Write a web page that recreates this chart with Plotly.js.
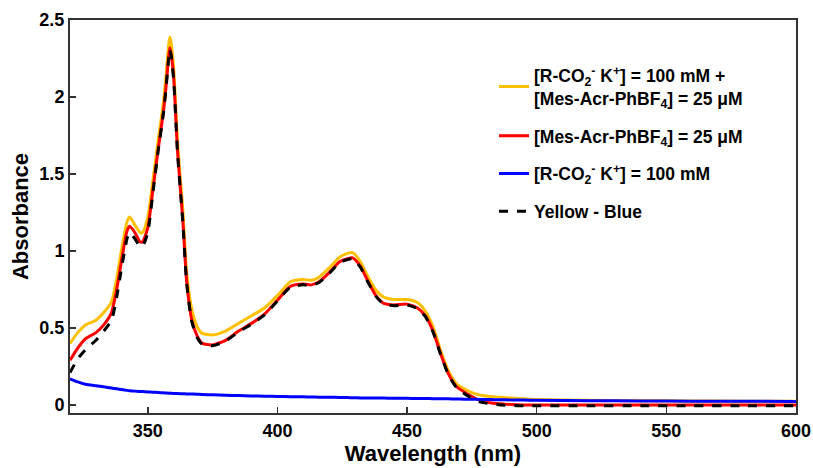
<!DOCTYPE html>
<html>
<head>
<meta charset="utf-8">
<script src="https://cdn.plot.ly/plotly-3.0.1.min.js"></script>
<style>html,body{margin:0;padding:0;background:#fff}#chart{width:813px;height:468px}</style>
</head>
<body>
<div id="chart"></div>
<script>
// Wavelength (nm)
const wavelength = [320,323,326,330,333,336,338,340,342,343,
  345,347,348,350,352,354,356,357,358,358.5,
  359,360,361.5,363.5,365,367,369,371,375,380,
  385,390,395,400,405,410,413,416,420,424,
  427,429,432,435,438,441,445,450,454,457,
  460,463,466,469,472,475,478,482,486,490,
  495,500,520,540,560,580,600];

// [R-CO2- K+] = 100 mM + [Mes-Acr-PhBF4] = 25 uM  (yellow)
const yellowMix = [0.40,0.47,0.52,0.55,0.60,0.67,0.82,1.02,1.19,1.22,
  1.17,1.12,1.12,1.22,1.46,1.72,1.96,2.13,2.33,2.39,
  2.35,2.18,1.70,1.27,0.86,0.62,0.51,0.465,0.455,0.48,
  0.53,0.58,0.63,0.71,0.80,0.815,0.81,0.83,0.89,0.96,
  0.985,0.99,0.93,0.83,0.745,0.70,0.685,0.685,0.665,0.61,
  0.51,0.35,0.22,0.14,0.105,0.08,0.065,0.055,0.05,0.045,
  0.04,0.035,0.03,0.028,0.026,0.025,0.024];

// [Mes-Acr-PhBF4] = 25 uM  (red)
const redAcr = [0.29,0.37,0.43,0.47,0.52,0.60,0.75,0.95,1.13,1.16,
  1.12,1.06,1.06,1.15,1.40,1.66,1.90,2.06,2.25,2.32,
  2.28,2.12,1.64,1.20,0.80,0.55,0.45,0.40,0.39,0.42,
  0.48,0.53,0.59,0.68,0.77,0.785,0.78,0.80,0.86,0.93,
  0.95,0.955,0.90,0.80,0.71,0.66,0.65,0.655,0.63,0.58,
  0.48,0.33,0.20,0.12,0.085,0.055,0.03,0.015,0.008,0.003,
  0.0,0.0,0.0,0.0,0.0,0.0,0.0];

// [R-CO2- K+] = 100 mM  (blue)
const blueCarb = [0.17,0.15,0.135,0.125,0.118,0.11,0.105,0.10,0.095,0.093,
  0.09,0.088,0.087,0.085,0.083,0.081,0.079,0.078,0.077,0.077,
  0.076,0.075,0.074,0.073,0.072,0.071,0.07,0.068,0.066,0.063,
  0.061,0.059,0.057,0.055,0.054,0.053,0.052,0.051,0.05,0.049,
  0.048,0.047,0.046,0.046,0.045,0.045,0.044,0.043,0.042,0.042,
  0.041,0.040,0.040,0.039,0.038,0.037,0.036,0.035,0.034,0.033,
  0.032,0.031,0.028,0.026,0.025,0.024,0.023];

// Yellow - Blue  (black dashed)
const diffYB = [0.21,0.30,0.36,0.42,0.48,0.55,0.70,0.90,1.08,1.12,
  1.08,1.03,1.03,1.12,1.38,1.65,1.89,2.05,2.24,2.31,
  2.27,2.11,1.63,1.19,0.79,0.54,0.44,0.395,0.385,0.415,
  0.475,0.525,0.585,0.675,0.765,0.78,0.775,0.795,0.855,0.925,
  0.945,0.95,0.895,0.795,0.705,0.655,0.645,0.65,0.625,0.575,
  0.475,0.325,0.195,0.115,0.075,0.045,0.02,0.008,0.0,-0.003,
  -0.005,-0.005,-0.005,-0.005,-0.005,-0.005,-0.005];

const seriesNames = [
  "[R-CO<sub>2</sub><sup>-</sup> K<sup>+</sup>] = 100 mM +<br>[Mes-Acr-PhBF<sub>4</sub>] = 25 μM",
  "[Mes-Acr-PhBF<sub>4</sub>] = 25 μM",
  "[R-CO<sub>2</sub><sup>-</sup> K<sup>+</sup>] = 100 mM",
  "Yellow - Blue"
];
const xTicks = [350,400,450,500,550,600];
const yTicks = [0,0.5,1,1.5,2,2.5];
const yTickText = ["0","0.5","1","1.5","2","2.5"];

const mk = (y, name, color, dash, g) => ({
  x: wavelength, y: y, name: name, type: "scatter", mode: "lines",
  legendgroup: g,
  line: {color: color, width: 3, dash: dash, shape: "spline", smoothing: 0.6}
});

const data = [
  mk(yellowMix, seriesNames[0], "#FFC000", "solid", "a"),
  mk(redAcr, seriesNames[1], "#FF0000", "solid", "b"),
  mk(blueCarb, seriesNames[2], "#0000FF", "solid", "c"),
  mk(diffYB, seriesNames[3], "#000000", "dash", "d")
];

const fam = "Liberation Sans, Arial, sans-serif";
const layout = {
  width: 813, height: 468,
  margin: {l: 70, r: 17, t: 20, b: 55},
  paper_bgcolor: "#fff", plot_bgcolor: "#fff",
  showlegend: true,
  legend: {
    x: 0.584, y: 0.905, xanchor: "left", yanchor: "top",
    font: {family: fam, size: 17.5, color: "#000", weight: "bold"},
    tracegroupgap: 12, bgcolor: "rgba(0,0,0,0)"
  },
  xaxis: {
    range: [320, 600], tickvals: xTicks, ticks: "inside", ticklen: 6, tickwidth: 1.5,
    tickcolor: "#333", showline: true, linecolor: "#333", linewidth: 2, mirror: true,
    showgrid: false, zeroline: false,
    tickfont: {family: fam, size: 18, color: "#000", weight: "bold"},
    title: {text: "Wavelength (nm)", font: {family: fam, size: 22, color: "#000", weight: "bold"}, standoff: 6}
  },
  yaxis: {
    range: [-0.052, 2.5], tickvals: yTicks, ticktext: yTickText, ticks: "inside", ticklen: 6, tickwidth: 1.5,
    tickcolor: "#333", showline: true, linecolor: "#333", linewidth: 2, mirror: true,
    showgrid: false, zeroline: false,
    tickfont: {family: fam, size: 18, color: "#000", weight: "bold"},
    title: {text: "Absorbance", font: {family: fam, size: 22, color: "#000", weight: "bold"}, standoff: 5}
  }
};

Plotly.newPlot("chart", data, layout, {displayModeBar: false, staticPlot: true});
</script>
</body>
</html>
